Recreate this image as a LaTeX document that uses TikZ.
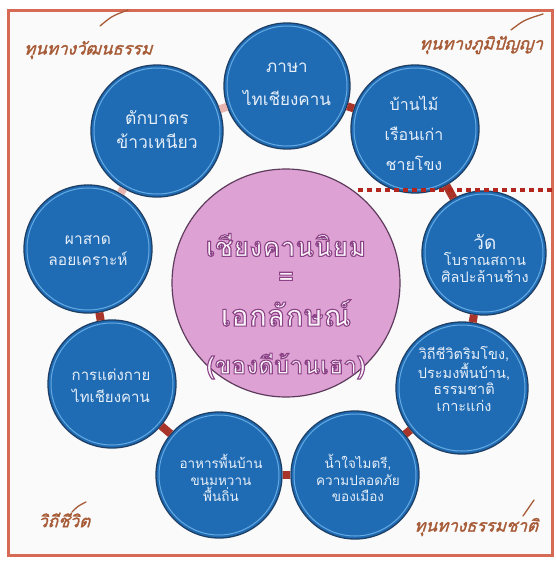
\documentclass[tikz,border=0pt]{standalone}
\usepackage{fontspec}
\newfontfamily\thai[Script=Thai]{Loma}
\newfontfamily\thaisl[Script=Thai,FakeSlant=0.3,FakeBold=1.5]{Loma}
\usetikzlibrary{backgrounds}
\definecolor{bblue}{HTML}{1F6CB5}
\definecolor{bdark}{HTML}{1E3F66}
\definecolor{brim}{HTML}{72B4EA}
\definecolor{btext}{HTML}{E6EEF8}
\definecolor{pinkc}{HTML}{DDA2D3}
\definecolor{pinkd}{HTML}{5E3A5C}
\definecolor{ctext}{HTML}{FAF4FA}
\definecolor{framec}{HTML}{D66A55}
\definecolor{linkc}{HTML}{A8342A}
\definecolor{linkp}{HTML}{E8B4B0}
\definecolor{brownc}{HTML}{A65A36}
\definecolor{dotc}{HTML}{B3261E}
% outlined text: fill + stroke render mode
\newcommand\outl[1]{\special{pdf:literal direct 2 Tr 1.1 w 0.55 0.26 0.53 RG}#1\special{pdf:literal direct 0 Tr 1 w}}
\tikzset{
  bub/.style={circle, fill=bblue, draw=bdark, line width=1.3pt, inner sep=0pt, minimum size=#1},
  rimc/.style={draw=brim, line width=1pt, opacity=0.85},
  btxt/.style={align=center, text=btext, inner sep=0pt},
  ctr/.style={text=ctext, inner sep=0pt},
  corner/.style={text=brownc, inner sep=0pt, font=\thaisl\fontsize{17}{18}\selectfont},
  flour/.style={draw=brownc, line width=1.3pt, line cap=round},
  link/.style={draw=linkc, line width=8pt},
  linkpale/.style={draw=linkp, line width=8pt},
  framebox/.style={draw=framec, line width=3pt},
  dots/.style={draw=dotc, line width=4.5pt, dash pattern=on 5pt off 4pt}
}
\begin{document}
\begin{tikzpicture}[x=1pt,y=-1pt]
\useasboundingbox (0,0) rectangle (556,563);
\fill[white] (0,0) rectangle (556,563);
\fill[black!2] (8,10) rectangle (552,555);
\draw[framebox] (8,10) rectangle (552,555);

% circles
\node[bub=126pt] (b1) at (287,86) {};
\node[bub=128pt] (b2) at (415,129) {};
\node[bub=132pt] (b3) at (157,131) {};
\node[bub=128pt] (b4) at (88,249) {};
\node[bub=128pt] (b5) at (112,384) {};
\node[bub=126pt] (b6) at (219,475) {};
\node[bub=128pt] (b7) at (355,475) {};
\node[bub=132pt] (b8) at (462,388) {};
\node[bub=124pt] (b9) at (484,253) {};
\node[circle, fill=pinkc, draw=pinkd, line width=1.2pt, inner sep=0pt, minimum size=228pt] (ctr) at (286,283) {};

\foreach \n/\r in {b1/60,b2/61,b3/63,b4/61,b5/61,b6/60,b7/61,b8/63,b9/59}
  \draw[rimc] (\n.center) circle[radius=\r pt];

% links (each spans the gap between two circles)
\draw[linkpale] (b3) -- (b1);
\draw[link] (b1) -- (b2);
\draw[link] (b2) -- (b9);
\draw[link] (b9) -- (b8);
\draw[link] (b8) -- (b7);
\draw[link] (b7) -- (b6);
\draw[link] (b6) -- (b5);
\draw[link] (b5) -- (b4);
\draw[linkpale] (b4) -- (b3);

% circle texts
\node[btxt, font=\thai\fontsize{17}{33}\selectfont] (t1) at (287,84) {ภาษา\\ไทเชียงคาน};
\node[btxt, font=\thai\fontsize{16}{30}\selectfont] (t2) at (414,133) {บ้านไม้\\เรือนเก่า\\ชายโขง};
\node[btxt, font=\thai\fontsize{17.5}{24}\selectfont] (t3) at (157,130) {ตักบาตร\\ข้าวเหนียว};
\node[btxt, font=\thai\fontsize{15.5}{21}\selectfont] (t4) at (88,250) {ผาสาด\\ลอยเคราะห์};
\node[btxt, font=\thai\fontsize{15}{22}\selectfont] (t5) at (111,386) {การแต่งกาย\\ไทเชียงคาน};
\node[btxt, font=\thai\fontsize{13.5}{16.5}\selectfont] (t6) at (221,478) {อาหารพื้นบ้าน\\ขนมหวาน\\พื้นถิ่น};
\node[btxt, font=\thai\fontsize{13.5}{16.5}\selectfont] (t7) at (358,478) {น้ำใจไมตรี,\\ความปลอดภัย\\ของเมือง};
\node[btxt, font=\thai\fontsize{14.5}{16.5}\selectfont] (t8) at (464,379) {วิถีชีวิตริมโขง,\\ประมงพื้นบ้าน,\\ธรรมชาติ\\เกาะแก่ง};
\node[btxt, font=\thai\fontsize{14.5}{16.5}\selectfont] (t9) at (485,258) {{\fontsize{19}{16.5}\selectfont วัด}\\โบราณสถาน\\ศิลปะล้านช้าง};

% centre texts
\node[ctr, font=\thai\bfseries\fontsize{27}{30}\selectfont] (c1) at (286,245) {\outl{เชียงคานนิยม}};
\node[ctr, font=\thai\bfseries\fontsize{27}{30}\selectfont] (c2) at (286,279) {\outl{=}};
\node[ctr, font=\thai\bfseries\fontsize{30}{34}\selectfont] (c3) at (286,313) {\outl{เอกลักษณ์}};
\node[ctr, font=\thai\bfseries\fontsize{24.5}{30}\selectfont] (c4) at (286,366) {\outl{(ของดีบ้านเฮา)}};

% dotted divider
\coordinate (d1) at (358,190);
\coordinate (d2) at (556,190);
\draw[dots] (d1) -- (d2);

% corner labels
\node[corner] (k1) at (88,50) {ทุนทางวัฒนธรรม};
\node[corner] (k2) at (481,45) {ทุนทางภูมิปัญญา};
\node[corner] (k3) at (64,520) {วิถีชีวิต};
\node[corner] (k4) at (476,527) {ทุนทางธรรมชาติ};
\draw[flour] (100,26) .. controls (112,16) .. (128,10);
\draw[flour] (511,30) .. controls (524,20) .. (543,14);
\draw[flour] (72,512) .. controls (78,506) .. (86,502);
\draw[flour] (523,516) .. controls (528,508) .. (534,500);
\end{tikzpicture}
\end{document}
